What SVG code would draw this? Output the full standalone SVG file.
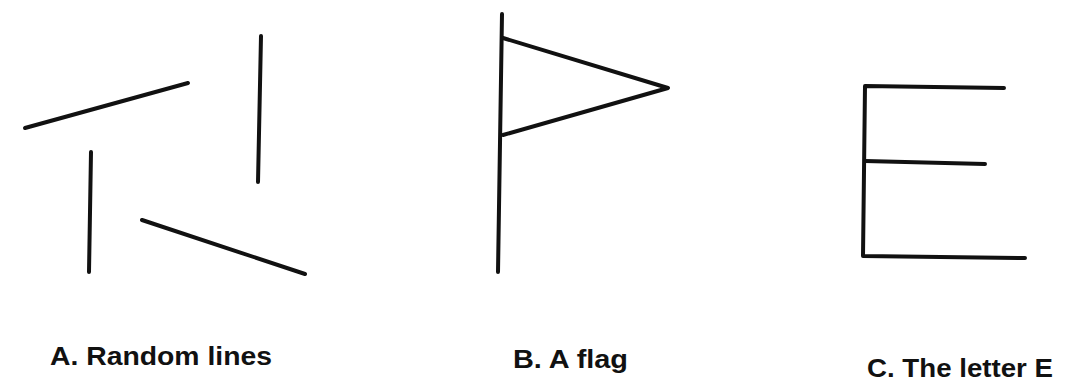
<svg xmlns="http://www.w3.org/2000/svg" width="1067" height="387" viewBox="0 0 1067 387">
<style>
.ln{stroke:#111;stroke-width:4;fill:none;stroke-linecap:round;stroke-linejoin:round}
.lbl{font-family:"Liberation Sans",Arial,sans-serif;font-weight:bold;font-size:25px;fill:#111}
</style>
<rect width="1067" height="387" fill="#fff"/>
<g id="random-lines">
<line class="ln" x1="25" y1="128" x2="188" y2="83"/>
<line class="ln" x1="261" y1="36" x2="258" y2="182"/>
<line class="ln" x1="91" y1="152" x2="89" y2="272"/>
<line class="ln" x1="142" y1="220" x2="305" y2="274"/>
<text class="lbl" x="50" y="365" textLength="222" lengthAdjust="spacingAndGlyphs">A. Random lines</text>
</g>
<g id="flag">
<line class="ln" x1="502" y1="14" x2="498" y2="272"/>
<polyline class="ln" points="503,38 668,88 503,135"/>
<text class="lbl" x="513" y="368" textLength="115" lengthAdjust="spacingAndGlyphs">B. A flag</text>
</g>
<g id="letter-e">
<polyline class="ln" points="1004,88 865,86 863,256 1025,258"/>
<line class="ln" x1="865" y1="161" x2="985" y2="164"/>
<text class="lbl" x="867" y="377" textLength="186" lengthAdjust="spacingAndGlyphs">C. The letter E</text>
</g>
</svg>
